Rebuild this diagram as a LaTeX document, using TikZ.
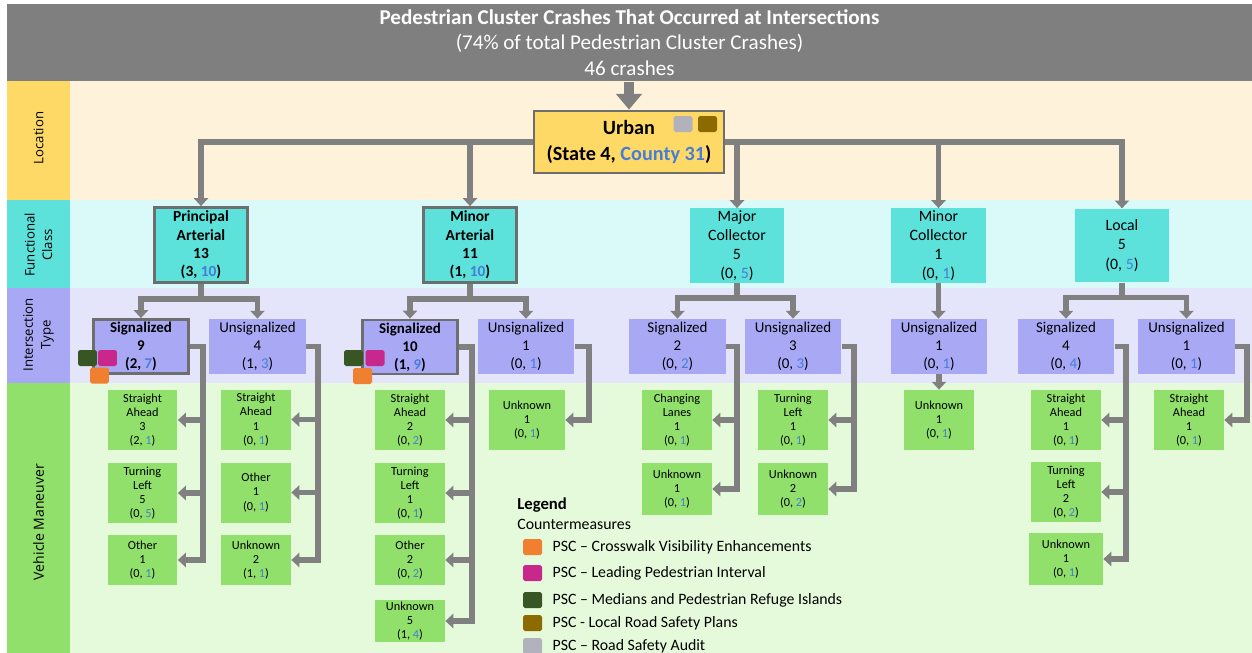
\documentclass[tikz,border=0pt]{standalone}
\usepackage{fontspec}
\setmainfont{Carlito}
\newfontfamily\lblfont{Open Sans}
\usetikzlibrary{arrows.meta}
\usetikzlibrary{positioning}

\definecolor{titleGray}{RGB}{127,127,127}
\definecolor{lineGray}{RGB}{128,128,128}
\definecolor{boxGray}{RGB}{110,110,110}
\definecolor{locDark}{RGB}{255,217,102}
\definecolor{locLight}{RGB}{254,243,218}
\definecolor{fcDark}{RGB}{92,225,219}
\definecolor{fcLight}{RGB}{218,250,250}
\definecolor{itDark}{RGB}{168,168,245}
\definecolor{itLight}{RGB}{228,228,250}
\definecolor{vmDark}{RGB}{144,224,107}
\definecolor{vmLight}{RGB}{229,250,219}
\definecolor{numBlue}{RGB}{70,125,215}
\definecolor{cmOrange}{RGB}{240,128,48}
\definecolor{cmMagenta}{RGB}{200,40,140}
\definecolor{cmGreen}{RGB}{55,86,35}
\definecolor{cmBrown}{RGB}{140,106,0}
\definecolor{cmGray}{RGB}{178,178,188}

\newcommand{\bl}[1]{\textcolor{numBlue}{#1}}

\begin{document}
\begin{tikzpicture}[x=0.02cm,y=-0.02cm,
	titlebar/.style={fill=titleGray, text=white, minimum width=24.9cm, minimum height=1.44cm, align=center, font=\fontsize{12}{14.5}\selectfont},
	urbanbox/.style={fill=locDark, draw=boxGray, line width=1.6pt, minimum width=3.8cm, minimum height=1.24cm, align=center, font=\fontsize{11.5}{15.3}\selectfont\bfseries},
	fcbox/.style={fill=fcDark, minimum width=1.9cm, minimum height=1.47cm, inner sep=1pt, align=center, font=\fontsize{9}{10.9}\selectfont},
	fchl/.style={fcbox, draw=boxGray, line width=1.6pt, minimum width=1.86cm, minimum height=1.5cm, font=\fontsize{8.8}{10.5}\selectfont\bfseries},
	itbox/.style={fill=itDark, minimum width=1.94cm, minimum height=1.1cm, inner sep=1pt, align=center, font=\fontsize{8.5}{10.2}\selectfont},
	ithl/.style={itbox, draw=boxGray, line width=1.6pt, minimum width=1.9cm, minimum height=1.08cm, font=\fontsize{8.5}{10.2}\selectfont\bfseries},
	vmbox/.style={fill=vmDark, minimum width=1.4cm, minimum height=1.0cm, inner sep=1.2pt, align=center, font=\fontsize{7}{8.1}\selectfont},
	vmtall/.style={vmbox, minimum height=1.2cm},
	cmkey/.style={minimum width=0.38cm, minimum height=0.32cm, inner sep=0pt, rounded corners=1pt},
	lgtext/.style={anchor=west, inner sep=0pt, font=\fontsize{9}{11}\selectfont},
	rowlbl/.style={rotate=90, align=center, font=\lblfont\fontsize{7.5}{10}\selectfont},
	conn/.style={draw=lineGray, line width=3.3pt, -{Triangle[width=8pt,length=4.5pt]}},
	bigconn/.style={draw=lineGray, line width=5.7pt, -{Triangle[width=14.5pt,length=9pt]}}]
	\useasboundingbox (0,0) rectangle (1252,653);
	\fill[white] (0,0) rectangle (1252,653);
	% bands
	\fill[locDark] (7,77) rectangle (70,200);
	\fill[locLight] (70,77) rectangle (1252,200);
	\fill[fcDark] (7,200) rectangle (70,288);
	\fill[fcLight] (70,200) rectangle (1252,288);
	\fill[itDark] (7,288) rectangle (70,383);
	\fill[itLight] (70,288) rectangle (1252,383);
	\fill[vmDark] (7,383) rectangle (70,653);
	\fill[vmLight] (70,383) rectangle (1252,653);
	\node[rowlbl] (lblLoc) at (38.5,138) {Location};
	\node[rowlbl] (lblFc) at (38.5,245) {Functional\\Class};
	\node[rowlbl] (lblIt) at (38.5,335) {Intersection\\Type};
	\node[rowlbl, font=\lblfont\fontsize{8}{10}\selectfont] (lblVm) at (38.5,522) {Vehicle Maneuver};
	% title and location
	\node[titlebar] (title) at (629.5,42.5) {\textbf{Pedestrian Cluster Crashes That Occurred at Intersections}\\(74\% of total Pedestrian Cluster Crashes)\\46 crashes};
	\node[urbanbox] (urban) at (629,142) {Urban\\(State 4, \bl{County 31})};
	\node[cmkey, fill=cmGray] (urbKeyA) at (683,124) {};
	\node[cmkey, fill=cmBrown] (urbKeyB) at (707.5,124) {};
	% functional class
	\node[fchl] (pa) at (201,245) {Principal\\Arterial\\13\\(3, \bl{10})};
	\node[fchl] (ma) at (470,245) {Minor\\Arterial\\11\\(1, \bl{10})};
	\node[fcbox] (mc) at (737,245.5) {Major\\Collector\\5\\(0, \bl{5})};
	\node[fcbox] (mic) at (938.5,245.5) {Minor\\Collector\\1\\(0, \bl{1})};
	\node[fcbox] (lo) at (1122,245.5) {Local\\5\\(0, \bl{5})};
	% intersection type
	\node[ithl] (paS) at (141,346.5) {Signalized\\9\\(2, \bl{7})};
	\node[itbox] (paU) at (257.5,346.5) {Unsignalized\\4\\(1, \bl{3})};
	\node[ithl] (maS) at (410,347) {Signalized\\10\\(1, \bl{9})};
	\node[itbox] (maU) at (526,346.5) {Unsignalized\\1\\(0, \bl{1})};
	\node[itbox] (mcS) at (677.5,346.5) {Signalized\\2\\(0, \bl{2})};
	\node[itbox] (mcU) at (793,346.5) {Unsignalized\\3\\(0, \bl{3})};
	\node[itbox] (micU) at (939,346.5) {Unsignalized\\1\\(0, \bl{1})};
	\node[itbox] (loS) at (1066,346.5) {Signalized\\4\\(0, \bl{4})};
	\node[itbox] (loU) at (1186.5,346.5) {Unsignalized\\1\\(0, \bl{1})};
	\node[cmkey, fill=cmGreen] (paKeyA) at (87.5,358) {};
	\node[cmkey, fill=cmMagenta] (paKeyB) at (107.5,358) {};
	\node[cmkey, fill=cmOrange] (paKeyC) at (99.5,375.5) {};
	\node[cmkey, fill=cmGreen] (maKeyA) at (353.5,358) {};
	\node[cmkey, fill=cmMagenta] (maKeyB) at (375,358) {};
	\node[cmkey, fill=cmOrange] (maKeyC) at (362.5,376) {};
	% vehicle maneuver
	\node[vmtall] (paS1) at (142.5,420) {Straight\\Ahead\\3\\(2, \bl{1})};
	\node[vmtall] (paS2) at (142.5,493) {Turning\\Left\\5\\(0, \bl{5})};
	\node[vmbox] (paS3) at (142.5,560) {Other\\1\\(0, \bl{1})};
	\node[vmtall] (paU1) at (256,419.5) {Straight\\Ahead\\1\\(0, \bl{1})};
	\node[vmtall] (paU2) at (256,492.5) {Other\\1\\(0, \bl{1})};
	\node[vmbox] (paU3) at (256,560) {Unknown\\2\\(1, \bl{1})};
	\node[vmtall] (maS1) at (410,420) {Straight\\Ahead\\2\\(0, \bl{2})};
	\node[vmtall] (maS2) at (410,493) {Turning\\Left\\1\\(0, \bl{1})};
	\node[vmbox] (maS3) at (410,560) {Other\\2\\(0, \bl{2})};
	\node[vmbox, minimum height=0.84cm] (maS4) at (410,621) {Unknown\\5\\(1, \bl{4})};
	\node[vmtall, minimum width=1.52cm] (maU1) at (527,420) {Unknown\\1\\(0, \bl{1})};
	\node[vmtall] (mcS1) at (677,420) {Changing\\Lanes\\1\\(0, \bl{1})};
	\node[vmbox, minimum height=1.04cm] (mcS2) at (677,489) {Unknown\\1\\(0, \bl{1})};
	\node[vmtall] (mcU1) at (793,420) {Turning\\Left\\1\\(0, \bl{1})};
	\node[vmbox, minimum height=1.04cm] (mcU2) at (793,489) {Unknown\\2\\(0, \bl{2})};
	\node[vmtall] (micU1) at (939,420) {Unknown\\1\\(0, \bl{1})};
	\node[vmtall] (loS1) at (1066,420) {Straight\\Ahead\\1\\(0, \bl{1})};
	\node[vmtall] (loS2) at (1066,492) {Turning\\Left\\2\\(0, \bl{2})};
	\node[vmbox, minimum width=1.48cm, minimum height=1.04cm] (loS3) at (1066,559) {Unknown\\1\\(0, \bl{1})};
	\node[vmtall] (loU1) at (1189,420) {Straight\\Ahead\\1\\(0, \bl{1})};
	% connectors
	\draw[bigconn] (title.south -| urban.north) -- (urban.north);
	\draw[conn] (urban.west) -| (pa.north);
	\draw[conn] (urban.west) -| (ma.north);
	\draw[conn] (urban.east) -| (mc.north);
	\draw[conn] (urban.east) -| (mic.north);
	\draw[conn] (urban.east) -| (lo.north);
	\draw[conn] (pa.south) -- ++(0,15) -| (paS.north);
	\draw[conn] (pa.south) -- ++(0,15) -| (paU.north);
	\draw[conn] (ma.south) -- ++(0,15) -| (maS.north);
	\draw[conn] (ma.south) -- ++(0,15) -| (maU.north);
	\draw[conn] (mc.south) -- ++(0,15) -| (mcS.north);
	\draw[conn] (mc.south) -- ++(0,15) -| (mcU.north);
	\draw[conn] (mic.south) -- (mic.south |- micU.north);
	\draw[conn] (lo.south) -- ++(0,15) -| (loS.north);
	\draw[conn] (lo.south) -- ++(0,15) -| (loU.north);
	\foreach \kid in {paS1,paS2,paS3}
		\draw[conn] (paS.east) -- ++(13,0) |- (\kid.east);
	\foreach \kid in {paU1,paU2,paU3}
		\draw[conn] (paU.east) -- ++(12,0) |- (\kid.east);
	\foreach \kid in {maS1,maS2,maS3,maS4}
		\draw[conn] (maS.east) -- ++(13,0) |- (\kid.east);
	\draw[conn] (maU.east) -- ++(14,0) |- (maU1.east);
	\foreach \kid in {mcS1,mcS2}
		\draw[conn] (mcS.east) -- ++(11,0) |- (\kid.east);
	\foreach \kid in {mcU1,mcU2}
		\draw[conn] (mcU.east) -- ++(12,0) |- (\kid.east);
	\draw[conn] (micU.south) -- (micU1.north);
	\foreach \kid in {loS1,loS2,loS3}
		\draw[conn] (loS.east) -- ++(11,0) |- (\kid.east);
	\draw[conn] (loU.east) -- ++(12,0) |- (loU1.east);
	% legend
	\node[lgtext, font=\fontsize{9.5}{11}\selectfont\bfseries] (lgTitle) at (517,505) {Legend};
	\node[lgtext] (lgSub) at (517,524) {Countermeasures};
	\node[cmkey, fill=cmOrange] (keyA) at (532.5,547) {};
	\node[lgtext, right=0.2cm of keyA] (keyTxtA) {PSC -- Crosswalk Visibility Enhancements};
	\node[cmkey, fill=cmMagenta] (keyB) at (532.5,573) {};
	\node[lgtext, right=0.2cm of keyB] (keyTxtB) {PSC -- Leading Pedestrian Interval};
	\node[cmkey, fill=cmGreen] (keyC) at (532.5,600) {};
	\node[lgtext, right=0.2cm of keyC] (keyTxtC) {PSC -- Medians and Pedestrian Refuge Islands};
	\node[cmkey, fill=cmBrown] (keyD) at (532.5,623) {};
	\node[lgtext, right=0.2cm of keyD] (keyTxtD) {PSC - Local Road Safety Plans};
	\node[cmkey, fill=cmGray] (keyE) at (532.5,646) {};
	\node[lgtext, right=0.2cm of keyE] (keyTxtE) {PSC -- Road Safety Audit};
\end{tikzpicture}
\end{document}
